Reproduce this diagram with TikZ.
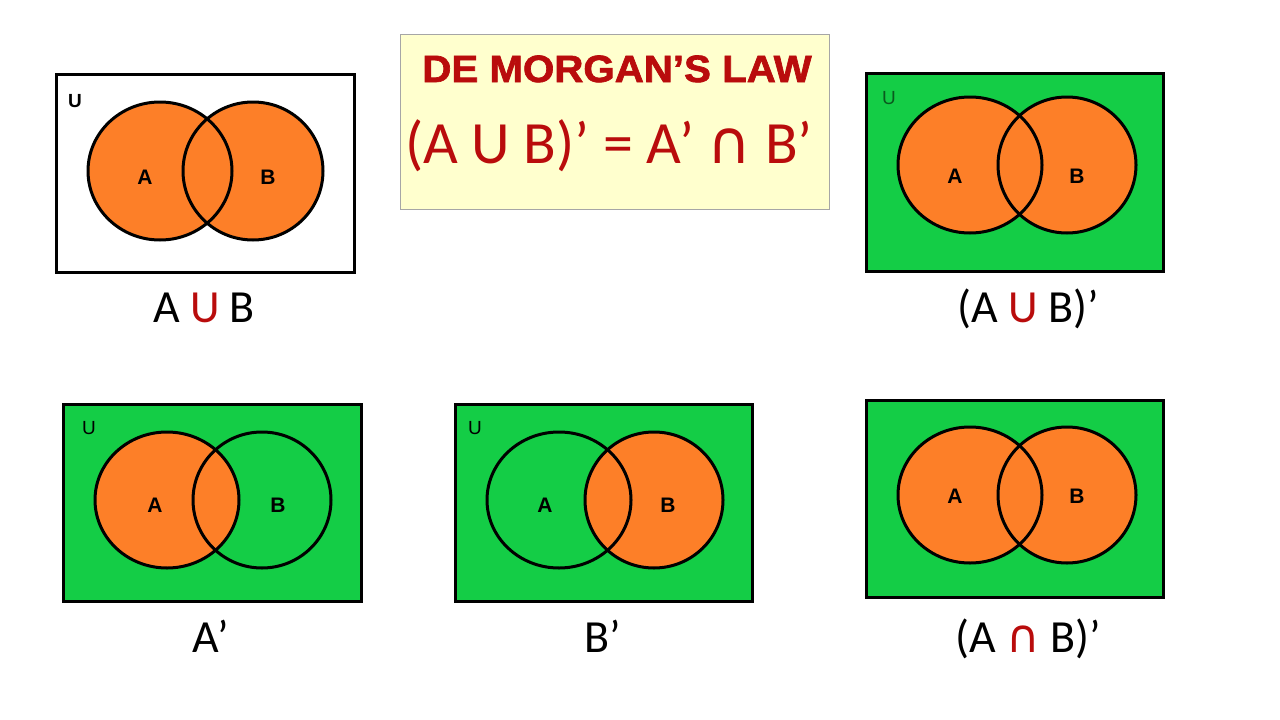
\documentclass[tikz,border=0pt]{standalone}
\usepackage{fontspec}
\setmainfont{Carlito}
\newfontfamily\arialf{Liberation Sans}
\newfontfamily\titlef[FakeStretch=1.06,FakeBold=1.8]{Liberation Sans}
\newfontfamily\djv{DejaVu Sans}
\definecolor{vgreen}{RGB}{20,205,70}
\definecolor{vorange}{RGB}{253,127,40}
\definecolor{dred}{RGB}{185,12,12}
\definecolor{ltyellow}{RGB}{255,255,206}
\definecolor{ugreen}{RGB}{10,90,30}
\tikzset{
  ubox/.style={draw=black, line width=3pt},
  vcirc/.style={draw=black, line width=3pt},
  setlbl/.style={font=\arialf\bfseries\fontsize{21}{21}\selectfont, inner sep=0pt},
  ulbl/.style={font=\arialf\fontsize{19}{19}\selectfont, inner sep=0pt},
  capt/.style={font=\fontsize{46}{50}\selectfont, anchor=base, inner sep=0pt},
}
\begin{document}
\begin{tikzpicture}[x=1pt,y=-1pt]
\useasboundingbox (0,0) rectangle (1280,720);
\fill[white] (0,0) rectangle (1280,720);

% ---------- Box 1: A U B ----------
\fill[white] (56,74) rectangle (354,272);
\fill[vorange] (160,171) ellipse [x radius=72, y radius=69];
\fill[vorange] (253,171) ellipse [x radius=70, y radius=69];
\draw[vcirc] (160,171) ellipse [x radius=72, y radius=69];
\draw[vcirc] (253,171) ellipse [x radius=70, y radius=69];
\draw[ubox] (56,74) rectangle (354,272);
\node[ulbl, font=\arialf\bfseries\fontsize{19}{19}\selectfont] (u1) at (75,101) {U};
\node[setlbl] (a1) at (145,177) {A};
\node[setlbl] (b1) at (268,177) {B};
\node[capt] (c1) at (204,322) {A {\color{dred}U} B};

% ---------- Title box ----------
\draw[draw=gray!70, fill=ltyellow, line width=1pt] (400,34) rectangle (829,209);
\node[font=\titlef\bfseries\fontsize{38}{38}\selectfont, text=dred, anchor=base, inner sep=0pt] (title) at (617,82) {DE MORGAN’S LAW};
\node[font=\fontsize{60}{60}\selectfont, text=dred, anchor=base, inner sep=0pt] (law) at (609,163) {(A U B)’ = A’ {\djv ∩} B’};

% ---------- Box 3: (A U B)' ----------
\fill[vgreen] (866,73) rectangle (1163,271);
\fill[vorange] (970,165) ellipse [x radius=72, y radius=68];
\fill[vorange] (1067,165) ellipse [x radius=69, y radius=68];
\draw[vcirc] (970,165) ellipse [x radius=72, y radius=68];
\draw[vcirc] (1067,165) ellipse [x radius=69, y radius=68];
\draw[ubox] (866,73) rectangle (1163,271);
\node[ulbl, text=ugreen] (u3) at (889,98) {U};
\node[setlbl] (a3) at (955,176) {A};
\node[setlbl] (b3) at (1077,176) {B};
\node[capt] (c3) at (1028,322) {(A {\color{dred}U} B)’};

% ---------- Box 4: A' ----------
\fill[vgreen] (63,404) rectangle (361,601);
\fill[vorange] (167,500) ellipse [x radius=72, y radius=68];
\draw[vcirc] (167,500) ellipse [x radius=72, y radius=68];
\draw[vcirc] (262,500) ellipse [x radius=69, y radius=68];
\draw[ubox] (63,404) rectangle (361,601);
\node[ulbl] (u4) at (89,428) {U};
\node[setlbl] (a4) at (155,505) {A};
\node[setlbl] (b4) at (278,505) {B};
\node[capt] (c4) at (211,652) {A’};

% ---------- Box 5: B' ----------
\fill[vgreen] (455,404) rectangle (752,601);
\fill[vorange] (654,500) ellipse [x radius=69, y radius=68];
\draw[vcirc] (559,500) ellipse [x radius=72, y radius=68];
\draw[vcirc] (654,500) ellipse [x radius=69, y radius=68];
\draw[ubox] (455,404) rectangle (752,601);
\node[ulbl] (u5) at (475,428) {U};
\node[setlbl] (a5) at (545,505) {A};
\node[setlbl] (b5) at (668,505) {B};
\node[capt] (c5) at (603,652) {B’};

% ---------- Box 6: (A n B)' ----------
\fill[vgreen] (866,400) rectangle (1163,597);
\fill[vorange] (970,495) ellipse [x radius=72, y radius=68];
\fill[vorange] (1067,495) ellipse [x radius=69, y radius=68];
\draw[vcirc] (970,495) ellipse [x radius=72, y radius=68];
\draw[vcirc] (1067,495) ellipse [x radius=69, y radius=68];
\draw[ubox] (866,400) rectangle (1163,597);
\node[setlbl] (a6) at (955,496) {A};
\node[setlbl] (b6) at (1077,496) {B};
\node[capt] (c6) at (1028,652) {(A {\color{dred}\djv ∩} B)’};
\end{tikzpicture}
\end{document}
